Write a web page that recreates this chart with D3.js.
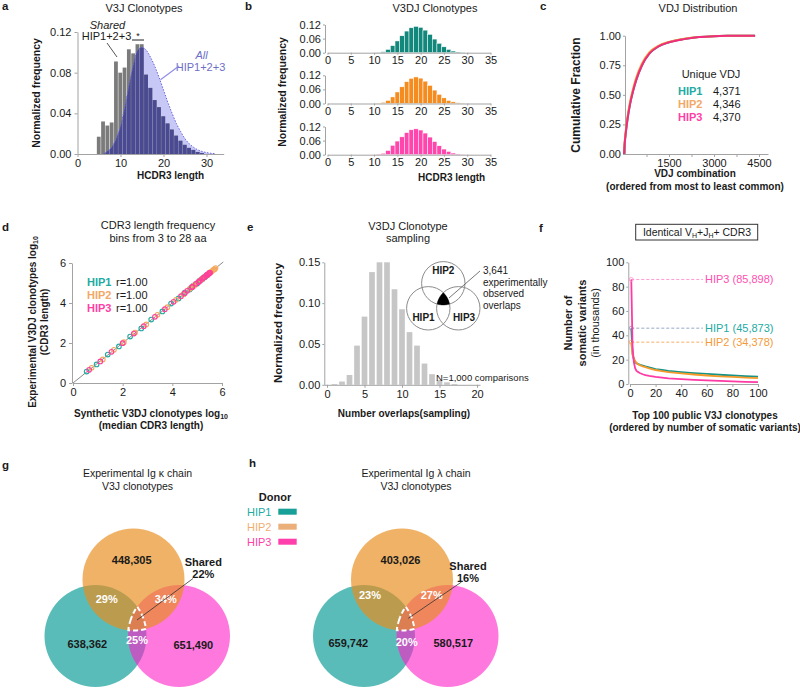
<!DOCTYPE html>
<html><head><meta charset="utf-8">
<script src="https://cdn.jsdelivr.net/npm/d3@7"></script>
<style>body{margin:0;background:#fff}</style>
</head><body>
<svg id="fig" width="800" height="688"></svg>
<script>
// ================= DATA =================
// panel a
const aSharedLen  = [5,6,7,8,9,10,11,12,13,14,15,16,17,18,19,20,21,22,23,24,25,26,27,28,29];
const aSharedFreq = [0.017,0.032,0.028,0.031,0.091,0.080,0.085,0.103,0.099,0.108,0.108,0.078,0.065,0.053,0.046,0.037,0.030,0.024,0.018,0.013,0.009,0.006,0.004,0.002,0.001];
const aAllLen  = [6,7,8,9,10,11,12,13,14,15,16,17,18,19,20,21,22,23,24,25,26,27,28,29,30,31,32];
const aAllFreq = [0,0.003,0.007,0.015,0.027,0.046,0.068,0.088,0.102,0.105,0.102,0.095,0.086,0.075,0.063,0.051,0.040,0.030,0.022,0.015,0.010,0.0066,0.004,0.0025,0.0014,0.0007,0.0003];
// panel b
const bLen  = [11,12,13,14,15,16,17,18,19,20,21,22,23,24,25,26,27,28,29];
const bHIP1 = [0.001,0.004,0.014,0.030,0.050,0.072,0.092,0.106,0.112,0.108,0.096,0.078,0.058,0.040,0.025,0.014,0.007,0.003,0.001];
const bHIP2 = [0.001,0.005,0.013,0.028,0.049,0.071,0.093,0.107,0.113,0.108,0.095,0.077,0.057,0.039,0.024,0.013,0.007,0.003,0.001];
const bHIP3 = [0.002,0.006,0.018,0.040,0.058,0.076,0.094,0.106,0.110,0.105,0.092,0.075,0.056,0.038,0.024,0.014,0.007,0.003,0.001];
// panel c
const cCount = [0,20,60,120,200,300,400,600,850,1150,1500,2000,2500,3000,3500,4000];
const cHIP1 = [0,0.08,0.18,0.30,0.42,0.53,0.62,0.75,0.85,0.91,0.945,0.972,0.988,0.996,0.999,1.0];
const cHIP2 = [0,0.09,0.20,0.32,0.44,0.55,0.64,0.765,0.86,0.915,0.948,0.974,0.989,0.996,0.999,1.0];
const cHIP3 = [0,0.08,0.18,0.30,0.42,0.53,0.62,0.75,0.85,0.91,0.944,0.971,0.988,0.996,0.999,1.0];
const cUnique = [4371,4346,4370];
const donors = ["HIP1","HIP2","HIP3"];
// panel d
const dSynHIP1 = [0.55,0.95,1.4,1.85,2.3,2.75,3.15,3.6,3.95,4.25,4.5,4.7,4.85,5.0,5.1,5.2,5.28,5.34,5.38,5.4,5.36,5.28,5.15,4.98,4.75,4.45];
const dExpHIP1 = [0.57,0.93,1.42,1.83,2.32,2.73,3.17,3.58,3.97,4.23,4.52,4.68,4.87,4.98,5.12,5.18,5.3,5.33,5.4,5.39,5.37,5.27,5.16,4.97,4.76,4.44];
const dSynHIP2 = [0.75,1.2,1.65,2.05,2.5,2.95,3.4,3.8,4.15,4.45,4.7,4.9,5.05,5.2,5.3,5.4,5.5,5.58,5.64,5.7,5.74,5.68,5.55,5.38,5.15,4.85];
const dExpHIP2 = [0.76,1.18,1.66,2.04,2.52,2.93,3.41,3.79,4.16,4.44,4.71,4.89,5.06,5.19,5.31,5.39,5.51,5.57,5.65,5.69,5.75,5.67,5.56,5.37,5.16,4.84];
const dSynHIP3 = [0.65,1.1,1.55,2.0,2.45,2.85,3.3,3.7,4.05,4.35,4.6,4.8,4.95,5.1,5.2,5.3,5.38,5.45,5.5,5.52,5.48,5.4,5.25,5.05,4.8,4.5];
const dExpHIP3 = [0.66,1.08,1.56,1.99,2.47,2.84,3.31,3.69,4.06,4.34,4.61,4.79,4.96,5.09,5.21,5.29,5.39,5.44,5.51,5.51,5.49,5.39,5.26,5.04,4.81,4.49];
const dR = ["r=1.00","r=1.00","r=1.00"];
// panel e
const eOverlaps = [1,2,3,4,5,6,7,8,9,10,11,12,13,14,15,16,17];
const eFreq = [0.001,0.004,0.012,0.048,0.0835,0.138,0.150,0.150,0.117,0.0925,0.0645,0.048,0.026,0.013,0.006,0.003,0.001];
// panel f
const fRank = [1,2,3,4,5,6,8,10,12,15,20,25,30,40,50,60,70,80,90,100];
const fHIP1 = [45.873,25,20,18,17,16.5,15.8,15.2,14.5,13.6,12.3,11.5,10.8,9.8,9.0,8.3,7.6,7.0,6.5,6.0];
const fHIP2 = [34.378,24,21,19,17.5,16.5,15.3,14.5,13.8,12.8,11.5,10.6,9.8,8.8,7.8,7.0,6.3,5.8,5.2,4.8];
const fHIP3 = [85.898,30,18,13,11,10,8.8,8.0,7.3,6.6,5.8,5.2,4.7,4.0,3.4,2.9,2.5,2.1,1.8,1.5];
const fLabels = ["HIP1 (45,873)","HIP2 (34,378)","HIP3 (85,898)"];
// panels g, h
const gCounts = ["638,362","448,305","651,490"];
const gPairs  = ["29%","34%","25%"]; // 1-2, 2-3, 1-3
const gShared = "22%";
const hCounts = ["659,742","403,026","580,517"];
const hPairs  = ["23%","27%","20%"];
const hShared = "16%";

// ================= DRAWING =================
const FONT = '"Liberation Sans", Arial, Helvetica, sans-serif';
const svg = d3.select('#fig');
function T(g,x,y,s,o={}){
  const t=g.append('text').attr('x',x).attr('y',y).attr('font-family',FONT)
    .attr('font-size',o.size||11).attr('fill',o.fill||'#1a1a1a').attr('text-anchor',o.anchor||'start');
  if(o.bold)t.attr('font-weight','bold');
  if(o.italic)t.attr('font-style','italic');
  if(o.rotate){t.attr('transform',`rotate(-90,${x},${y})`).attr('text-anchor','middle');}
  if(s!==null)t.text(s);
  return t;
}
function AX(g,axis){
  g.call(axis);
  g.attr('font-family',FONT).attr('font-size',11);
  g.selectAll('.domain').attr('stroke','#a3a3a3');
  g.selectAll('.tick line').attr('stroke','#a3a3a3');
  g.selectAll('.tick text').attr('fill','#1a1a1a');
  return g;
}
const C = {
  tealBar:'#12877b', orangeBar:'#f58c1f', pinkBar:'#ff46ad',
  tealTxt:'#22aaa3', orangeTxt:'#f2a866', pinkTxt:'#ff3fa6',
  tealLine:'#169488', orangeLine:'#f59a2a', pinkLine:'#ff3aa5'
};
// panel letters
[['a',2,10],['b',245,10],['c',540,10],['d',2,231],['e',247,231],['f',539,232],['g',2,469],['h',249,467]]
  .forEach(([s,x,y])=>T(svg,x,y,s,{bold:true,size:11.5}));

// ---------- panel a ----------
{
  const xA=d3.scaleLinear().domain([0,34]).range([77.5,223.7]);
  const yA=d3.scaleLinear().domain([0,0.12]).range([154,32]);
  const g=svg.append('g');
  T(g,144,12,'V3J Clonotypes',{anchor:'middle'});
  const pts=aAllLen.map((L,i)=>[L,aAllFreq[i]]);
  const area=d3.area().x(d=>xA(d[0])).y0(yA(0)).y1(d=>yA(d[1])).curve(d3.curveMonotoneX);
  const line=d3.line().x(d=>xA(d[0])).y(d=>yA(d[1])).curve(d3.curveMonotoneX);
  g.append('path').attr('d',area(pts)).attr('fill','#c8c8f6');
  svg.append('clipPath').attr('id','clipA').append('path').attr('d',area(pts));
  const bw=xA(1)-xA(0);
  g.selectAll('rect.s').data(aSharedLen).join('rect').attr('class','s')
    .attr('x',L=>xA(L-0.5)).attr('width',bw-0.5)
    .attr('y',(L,i)=>yA(aSharedFreq[i])).attr('height',(L,i)=>yA(0)-yA(aSharedFreq[i]))
    .attr('fill','#7b7b7b');
  g.append('g').attr('clip-path','url(#clipA)').selectAll('rect').data(aSharedLen).join('rect')
    .attr('x',L=>xA(L-0.5)).attr('width',bw-0.5)
    .attr('y',(L,i)=>yA(aSharedFreq[i])).attr('height',(L,i)=>yA(0)-yA(aSharedFreq[i]))
    .attr('fill','#4a4a92');
  g.append('path').attr('d',line(pts)).attr('fill','none').attr('stroke','#6666dd').attr('stroke-width',1).attr('stroke-dasharray','1.5,1.5');
  AX(g.append('g').attr('transform','translate(0,154)'),d3.axisBottom(xA).tickValues([0,10,20,30]).tickSize(3).tickPadding(2).tickSizeOuter(0));
  AX(g.append('g').attr('transform','translate(77.5,0)'),d3.axisLeft(yA).tickValues([0,0.04,0.08,0.12]).tickFormat(d3.format('.2f')).tickSize(3).tickPadding(3).tickSizeOuter(0));
  T(g,137,179,'HCDR3 length',{bold:true,size:10});
  T(g,40,93,'Normalized frequency',{bold:true,size:10.5,rotate:true});
  T(g,107.5,29,'Shared',{italic:true,anchor:'middle'});
  T(g,106.5,40,'HIP1+2+3',{anchor:'middle'});
  g.append('line').attr('x1',107).attr('y1',43).attr('x2',117).attr('y2',57).attr('stroke','#555').attr('stroke-width',1);
  g.append('line').attr('x1',132).attr('y1',40).attr('x2',144).attr('y2',40).attr('stroke','#222').attr('stroke-width',1);
  T(g,138,39,'*',{anchor:'middle',size:9});
  T(g,201.5,59,'All',{italic:true,anchor:'middle',fill:'#6e6ec8'});
  T(g,200.5,70.5,'HIP1+2+3',{anchor:'middle',fill:'#6e6ec8'});
  g.append('line').attr('x1',xA(19.3)).attr('y1',yA(0.073)).attr('x2',179).attr('y2',66).attr('stroke','#8f8fe6').attr('stroke-width',1.2);
}

// ---------- panel b ----------
{
  const xB=d3.scaleLinear().domain([0,35]).range([327.5,490.5]);
  const g=svg.append('g');
  T(g,435,12,'V3DJ Clonotypes',{anchor:'middle'});
  const zeros=[52.7,103.5,154.7];
  const series=[bHIP1,bHIP2,bHIP3];
  const cols=[C.tealBar,C.orangeBar,C.pinkBar];
  const bw=xB(1)-xB(0);
  series.forEach((s,k)=>{
    const yB=d3.scaleLinear().domain([0,0.12]).range([zeros[k],zeros[k]-28.2]);
    g.append('g').selectAll('rect').data(bLen).join('rect')
      .attr('x',L=>xB(L-0.5)).attr('width',bw)
      .attr('y',(L,i)=>yB(s[i])).attr('height',(L,i)=>yB(0)-yB(s[i]))
      .attr('fill',cols[k]).attr('stroke','#fff').attr('stroke-width',0.5);
    AX(g.append('g').attr('transform',`translate(0,${zeros[k]})`),d3.axisBottom(xB).tickValues([0,5,10,15,20,25,30,35]).tickSize(2).tickPadding(1.5).tickSizeOuter(0));
    AX(g.append('g').attr('transform','translate(325,0)'),d3.axisLeft(yB).tickValues([0,0.06,0.12]).tickFormat(d3.format('.2f')).tickSize(2).tickPadding(2).tickSizeOuter(0));
  });
  T(g,418,180.5,'HCDR3 length',{bold:true,size:10});
  T(g,286,92,'Normalized frequency',{bold:true,size:10.5,rotate:true});
}

// ---------- panel c ----------
{
  const xC=d3.scaleLinear().domain([0,4800]).range([624,768]);
  const yC=d3.scaleLinear().domain([0,1]).range([154,35.7]);
  const g=svg.append('g');
  T(g,698,12,'VDJ Distribution',{anchor:'middle'});
  AX(g.append('g').attr('transform','translate(0,154)'),d3.axisBottom(xC).tickValues([750,1500,2250,3000,3750,4500]).tickFormat(d=>d%1500===0?d:'').tickSize(3).tickPadding(2).tickSizeOuter(0));
  AX(g.append('g').attr('transform','translate(625,0)'),d3.axisLeft(yC).tickValues([0,0.25,0.5,0.75,1]).tickFormat(d3.format('.2f')).tickSize(2).tickPadding(2).tickSizeOuter(0));
  const lines=[cHIP1,cHIP2,cHIP3];
  const cols=[C.tealLine,'#f7a63a','#ef2d7c'];
  const lg=d3.line().x(d=>xC(d[0])).y(d=>yC(d[1])).curve(d3.curveMonotoneX);
  lines.forEach((s,k)=>{
    const pts=cCount.map((c,i)=>[c,s[i]]).concat([[cUnique[k],1]]);
    g.append('path').attr('d',lg(pts)).attr('fill','none').attr('stroke',cols[k]).attr('stroke-width',2);
  });
  T(g,711,78,'Unique VDJ',{anchor:'middle'});
  const tc=[C.tealTxt,C.orangeTxt,C.pinkTxt];
  donors.forEach((d,k)=>{
    T(g,678,95+k*12.8,d,{bold:true,fill:tc[k]});
    T(g,713,95+k*12.8,d3.format(',')(cUnique[k]));
  });
  T(g,695,177,'VDJ combination',{bold:true,size:10,anchor:'middle'});
  T(g,695,190,'(ordered from most to least common)',{bold:true,size:10,anchor:'middle'});
  T(g,580,95,'Cumulative Fraction',{bold:true,size:12,rotate:true});
}

// ---------- panel d ----------
{
  const xD=d3.scaleLinear().domain([0,6]).range([73,222]);
  const yD=d3.scaleLinear().domain([0,6]).range([383,263]);
  const g=svg.append('g');
  T(g,158,229,'CDR3 length frequency',{anchor:'middle'});
  T(g,158,242,'bins from 3 to 28 aa',{anchor:'middle'});
  AX(g.append('g').attr('transform','translate(0,383)'),d3.axisBottom(xD).tickValues([0,2,4,6]).tickFormat(d3.format('d')).tickSize(3).tickPadding(2).tickSizeOuter(0));
  AX(g.append('g').attr('transform','translate(72,0)'),d3.axisLeft(yD).tickValues([0,2,4,6]).tickFormat(d3.format('d')).tickSize(3).tickPadding(3).tickSizeOuter(0));
  g.append('line').attr('x1',xD(0)).attr('y1',yD(0)).attr('x2',xD(6.05)).attr('y2',yD(6.05)).attr('stroke','#8a8a8a').attr('stroke-width',1);
  const sets=[[dSynHIP1,dExpHIP1],[dSynHIP2,dExpHIP2],[dSynHIP3,dExpHIP3]];
  const cols=[C.tealTxt,'#f5a860','#ff3f9a'];
  sets.forEach(([xs,ys],k)=>{
    g.append('g').selectAll('circle').data(xs).join('circle')
      .attr('cx',d=>xD(d)).attr('cy',(d,i)=>yD(ys[i])).attr('r',2.3)
      .attr('fill','none').attr('stroke',cols[k]).attr('stroke-width',1.1);
  });
  donors.forEach((d,k)=>{
    T(g,87,285.5+k*13.3,d,{bold:true,fill:[C.tealTxt,C.orangeTxt,C.pinkTxt][k]});
    T(g,116,285.5+k*13.3,dR[k]);
  });
  const xl=T(g,151,417,null,{bold:true,size:10,anchor:'middle'});
  xl.append('tspan').text('Synthetic V3DJ clonotypes log');
  xl.append('tspan').attr('font-size',7).attr('dy',2).text('10');
  T(g,151,429,'(median CDR3 length)',{bold:true,size:10,anchor:'middle'});
  const yl=T(g,36,322,null,{bold:true,size:10,rotate:true});
  yl.append('tspan').text('Experimental V3DJ clonotypes log');
  yl.append('tspan').attr('font-size',7).attr('dy',2).text('10');
  T(g,48,322,'(CDR3 length)',{bold:true,size:10,rotate:true});
}

// ---------- panel e ----------
{
  const xE=d3.scaleLinear().domain([-0.4,20.4]).range([324,480]);
  const yE=d3.scaleLinear().domain([0,0.15]).range([384.8,262.3]);
  const g=svg.append('g');
  T(g,408,229.5,'V3DJ Clonotype',{anchor:'middle'});
  T(g,408,242,'sampling',{anchor:'middle'});
  const bw=(xE(1)-xE(0))*0.76;
  g.selectAll('rect').data(eOverlaps).join('rect')
    .attr('x',v=>xE(v)-bw/2).attr('width',bw)
    .attr('y',(v,i)=>yE(eFreq[i])).attr('height',(v,i)=>yE(0)-yE(eFreq[i]))
    .attr('fill','#c6c6c6');
  AX(g.append('g').attr('transform','translate(0,384.8)'),d3.axisBottom(xE).tickValues([0,5,10,15,20]).tickSize(3).tickPadding(2).tickSizeOuter(0));
  AX(g.append('g').attr('transform','translate(324.3,0)'),d3.axisLeft(yE).tickValues([0,0.05,0.10,0.15]).tickFormat(d3.format('.2f')).tickSize(2).tickPadding(2).tickSizeOuter(0));
  T(g,404,417,'Number overlaps(sampling)',{bold:true,size:10,anchor:'middle'});
  T(g,282,323,'Normalized frequency',{bold:true,size:11.5,rotate:true});
  const vc=[{x:428.3,y:308.3,r:21.7,n:'HIP1',tx:423.5,ty:320.5},{x:443.3,y:283.3,r:21.7,n:'HIP2',tx:443.3,ty:273.5},{x:458.3,y:308.3,r:21.7,n:'HIP3',tx:464,ty:320.5}];
  vc.forEach(c=>g.append('circle').attr('cx',c.x).attr('cy',c.y).attr('r',c.r).attr('fill','none').attr('stroke','#8c8c8c').attr('stroke-width',1));
  g.append('path').attr('d',tripleRegion(vc)).attr('fill','#000');
  vc.forEach(c=>T(g,c.tx,c.ty,c.n,{bold:true,size:10,anchor:'middle'}));
  g.append('line').attr('x1',449).attr('y1',298).attr('x2',480).attr('y2',271).attr('stroke','#555').attr('stroke-width',0.8);
  ['3,641','experimentally','observed','overlaps'].forEach((s,i)=>T(g,483,274+i*11.5,s,{size:10}));
  T(g,436,381,'N=1,000 comparisons',{size:9.5});
}

// ---------- panel f ----------
{
  const xF=d3.scaleLinear().domain([0,100]).range([630,758]);
  const yF=d3.scaleLinear().domain([0,100]).range([384,262.3]);
  const g=svg.append('g');
  g.append('rect').attr('x',635.7).attr('y',224.3).attr('width',122).attr('height',15.7).attr('fill','none').attr('stroke','#333').attr('stroke-width',1);
  const bt=T(g,697,236,null,{anchor:'middle',size:10.5});
  bt.append('tspan').text('Identical V');
  bt.append('tspan').attr('font-size',7).attr('dy',2).text('H');
  bt.append('tspan').attr('dy',-2).text('+J');
  bt.append('tspan').attr('font-size',7).attr('dy',2).text('H');
  bt.append('tspan').attr('dy',-2).text('+ CDR3');
  AX(g.append('g').attr('transform','translate(0,384)'),d3.axisBottom(xF).tickValues([0,20,40,60,80,100]).tickSize(3).tickPadding(2).tickSizeOuter(0));
  AX(g.append('g').attr('transform','translate(628.3,0)'),d3.axisLeft(yF).tickValues([0,20,40,60,80,100]).tickSize(2).tickPadding(2).tickSizeOuter(0));
  const series=[fHIP1,fHIP2,fHIP3];
  const cols=[C.tealLine,C.orangeLine,C.pinkLine];
  const dcols=['#8aa0c0','#f5a658','#ff90cf'];
  const tcols=['#22aaa3','#f59a3a','#ff4fb0'];
  const lg=d3.line().x(d=>xF(d[0])).y(d=>yF(d[1]));
  series.forEach((s,k)=>{
    g.append('line').attr('x1',xF(1)).attr('x2',703).attr('y1',yF(s[0])).attr('y2',yF(s[0]))
      .attr('stroke',dcols[k]).attr('stroke-width',0.9).attr('stroke-dasharray','3,2');
  });
  series.forEach((s,k)=>{
    g.append('path').attr('d',lg(fRank.map((r,i)=>[r,s[i]]))).attr('fill','none').attr('stroke',cols[k]).attr('stroke-width',1.8);
    g.append('circle').attr('cx',xF(1)).attr('cy',yF(s[0])).attr('r',2).attr('fill','none').attr('stroke',dcols[k]).attr('stroke-width',0.8);
    T(g,705,yF(s[0])+4,fLabels[k],{fill:tcols[k]});
  });
  T(g,705,419,'Top 100 public V3J clonotypes',{bold:true,size:10,anchor:'middle'});
  T(g,705,431,'(ordered by number of somatic variants)',{bold:true,size:10,anchor:'middle'});
  T(g,572,323,'Number of',{bold:true,size:11,rotate:true});
  T(g,585.5,323,'somatic variants',{bold:true,size:11,rotate:true});
  T(g,599,323,'(in thousands)',{size:11,rotate:true});
}

// ---------- panels g, h ----------
function tripleRegion(cs){
  const pts=[];
  cs.forEach((c,i)=>{
    for(let k=0;k<1440;k++){
      const a=k/1440*2*Math.PI;
      const p=[c.x+c.r*Math.cos(a),c.y+c.r*Math.sin(a)];
      if(cs.every((o,j)=>j===i||Math.hypot(p[0]-o.x,p[1]-o.y)<=o.r+0.01))pts.push(p);
    }
  });
  const cx=d3.mean(pts,p=>p[0]),cy=d3.mean(pts,p=>p[1]);
  pts.sort((a,b)=>Math.atan2(a[1]-cy,a[0]-cx)-Math.atan2(b[1]-cy,b[0]-cx));
  return 'M'+pts.map(p=>p[0].toFixed(2)+','+p[1].toFixed(2)).join('L')+'Z';
}
function venn(o){
  const g=svg.append('g');
  T(g,o.tx,477,o.title1,{anchor:'middle',size:10.5});
  T(g,o.tx,490,'V3J clonotypes',{anchor:'middle',size:10.5});
  const r=51;
  const teal={x:o.ox-38,y:636,r}, orange={x:o.ox,y:579.5,r}, pink={x:o.ox+45.5,y:636,r};
  g.append('circle').attr('cx',teal.x).attr('cy',teal.y).attr('r',r).attr('fill','rgb(90,188,185)');
  g.append('circle').attr('cx',pink.x).attr('cy',pink.y).attr('r',r).attr('fill','rgb(255,30,200)').attr('fill-opacity',0.6);
  g.append('circle').attr('cx',orange.x).attr('cy',orange.y).attr('r',r).attr('fill','rgb(233,142,30)').attr('fill-opacity',0.68);
  g.append('path').attr('d',tripleRegion([teal,orange,pink])).attr('fill','none').attr('stroke','#fff').attr('stroke-width',2).attr('stroke-dasharray','5,3');
  const L=o.lab;
  T(g,L.n2[0],L.n2[1],o.counts[1],{bold:true,anchor:'middle'});
  T(g,L.n1[0],L.n1[1],o.counts[0],{bold:true,anchor:'middle'});
  T(g,L.n3[0],L.n3[1],o.counts[2],{bold:true,anchor:'middle'});
  T(g,L.p12[0],L.p12[1],o.pairs[0],{bold:true,anchor:'middle',fill:'#fff'});
  T(g,L.p23[0],L.p23[1],o.pairs[1],{bold:true,anchor:'middle',fill:'#fff'});
  T(g,L.p13[0],L.p13[1],o.pairs[2],{bold:true,anchor:'middle',fill:'#fff'});
  T(g,L.sh[0],L.sh[1],'Shared',{bold:true,anchor:'middle'});
  T(g,L.sh[0],L.sh[1]+12,o.shared,{bold:true,anchor:'middle'});
  g.append('line').attr('x1',L.ln[0]).attr('y1',L.ln[1]).attr('x2',L.ln[2]).attr('y2',L.ln[3]).attr('stroke','#333').attr('stroke-width',0.8);
}
venn({ox:133.5,tx:137.5,title1:'Experimental Ig κ chain',counts:gCounts,pairs:gPairs,shared:gShared,
  lab:{n2:[131.7,564],n1:[87.3,647.5],n3:[193.3,649],p12:[106.7,602.5],p23:[165.7,602.5],p13:[137,644],sh:[203.3,566],ln:[193,578.5,137,620]}});
venn({ox:402,tx:416,title1:'Experimental Ig λ chain',counts:hCounts,pairs:hPairs,shared:hShared,
  lab:{n2:[400.5,564],n1:[348.3,646.5],n3:[453.3,646.5],p12:[370,599],p23:[431.7,599],p13:[406.7,645.7],sh:[468,569.5],ln:[461.5,582,408.3,618.3]}});
{
  const g=svg.append('g');
  T(g,275,501,'Donor',{bold:true,anchor:'middle'});
  const tc=['#22aaa3','#f0ad72','#ff3fa6'], sc=['#16a097','#ebb07a','#ff3fab'];
  donors.forEach((d,k)=>{
    T(g,247,515.5+k*15,d,{fill:tc[k]});
    g.append('rect').attr('x',278.3).attr('y',508.7+k*15).attr('width',18.4).attr('height',6).attr('fill',sc[k]);
  });
}
</script>
</body></html>
